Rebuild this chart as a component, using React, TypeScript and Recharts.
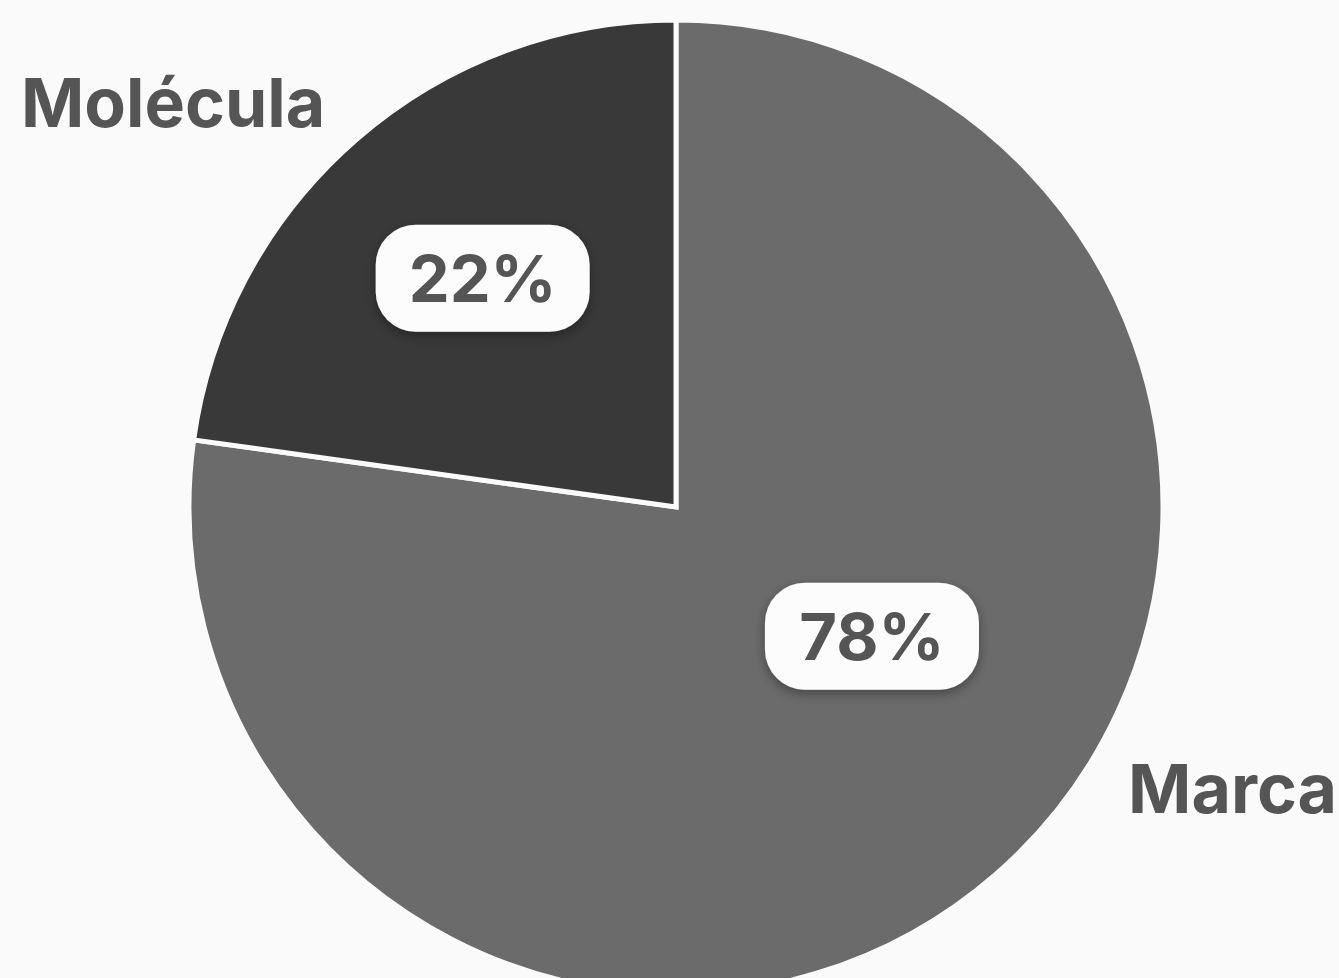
import { PieChart, Pie, Cell } from "recharts";

const categories = ["Marca", "Molécula"];
const shares = [77.2, 22.8];
const shareLabels = ["78%", "22%"];
const COLORS = ["#6b6b6b", "#393939"];

const data = categories.map((name, i) => ({
  name,
  value: shares[i],
  tag: shareLabels[i],
}));

// where each label sits, as angle (deg) and fraction of the radius
const LABEL_STYLE: Record<
  string,
  { pctAngle: number; pctR: number; nameAngle: number; nameR: number; anchor: "start" | "end" }
> = {
  Marca: { pctAngle: -33.4, pctR: 0.482, nameAngle: -34.1, nameR: 1.121, anchor: "start" },
  Molécula: { pctAngle: 130.2, pctR: 0.615, nameAngle: 132.7, nameR: 1.062, anchor: "end" },
};

const FONT = "Inter, 'Noto Sans', sans-serif";
const RAD = Math.PI / 180;

function renderLabel(props: any) {
  const { cx, cy, outerRadius, name, payload, index } = props;
  const s = LABEL_STYLE[name];
  if (!s) return null;
  const px = cx + outerRadius * s.pctR * Math.cos(s.pctAngle * RAD);
  const py = cy - outerRadius * s.pctR * Math.sin(s.pctAngle * RAD);
  const nx = cx + outerRadius * s.nameR * Math.cos(s.nameAngle * RAD);
  const ny = cy - outerRadius * s.nameR * Math.sin(s.nameAngle * RAD);
  const w = 214;
  const h = 107;
  const fid = `shadow-${index}`;
  return (
    <g>
      <defs>
        <filter id={fid} x="-30%" y="-30%" width="160%" height="170%">
          <feDropShadow dx="0" dy="4" stdDeviation="6" floodColor="#000" floodOpacity="0.35" />
        </filter>
      </defs>
      <rect
        x={px - w / 2}
        y={py - h / 2}
        width={w}
        height={h}
        rx={40}
        ry={40}
        fill="#fcfcfc"
        filter={`url(#${fid})`}
      />
      <text
        x={px}
        y={py + 24}
        textAnchor="middle"
        fill="#555555"
        fontSize={65}
        fontWeight={700}
        fontFamily={FONT}
      >
        {payload?.tag ?? name}
      </text>
      <text
        x={nx}
        y={ny}
        textAnchor={s.anchor}
        fill="#555555"
        fontSize={68}
        fontWeight={700}
        fontFamily={FONT}
      >
        {name}
      </text>
    </g>
  );
}

export default function App() {
  return (
    <div style={{ width: 1339, height: 978, background: "#fafafa" }}>
      <style>{`body{margin:0;background:#fafafa}`}</style>
      <PieChart width={1339} height={978} margin={{ top: 0, right: 0, bottom: 0, left: 0 }}>
        <Pie
          data={data}
          dataKey="value"
          nameKey="name"
          cx={676}
          cy={507}
          outerRadius={487}
          startAngle={90}
          endAngle={-270}
          stroke="#fafafa"
          strokeWidth={5}
          label={renderLabel}
          labelLine={false}
          isAnimationActive={false}
        >
          {data.map((_, i) => (
            <Cell key={i} fill={COLORS[i % COLORS.length]} />
          ))}
        </Pie>
      </PieChart>
    </div>
  );
}
